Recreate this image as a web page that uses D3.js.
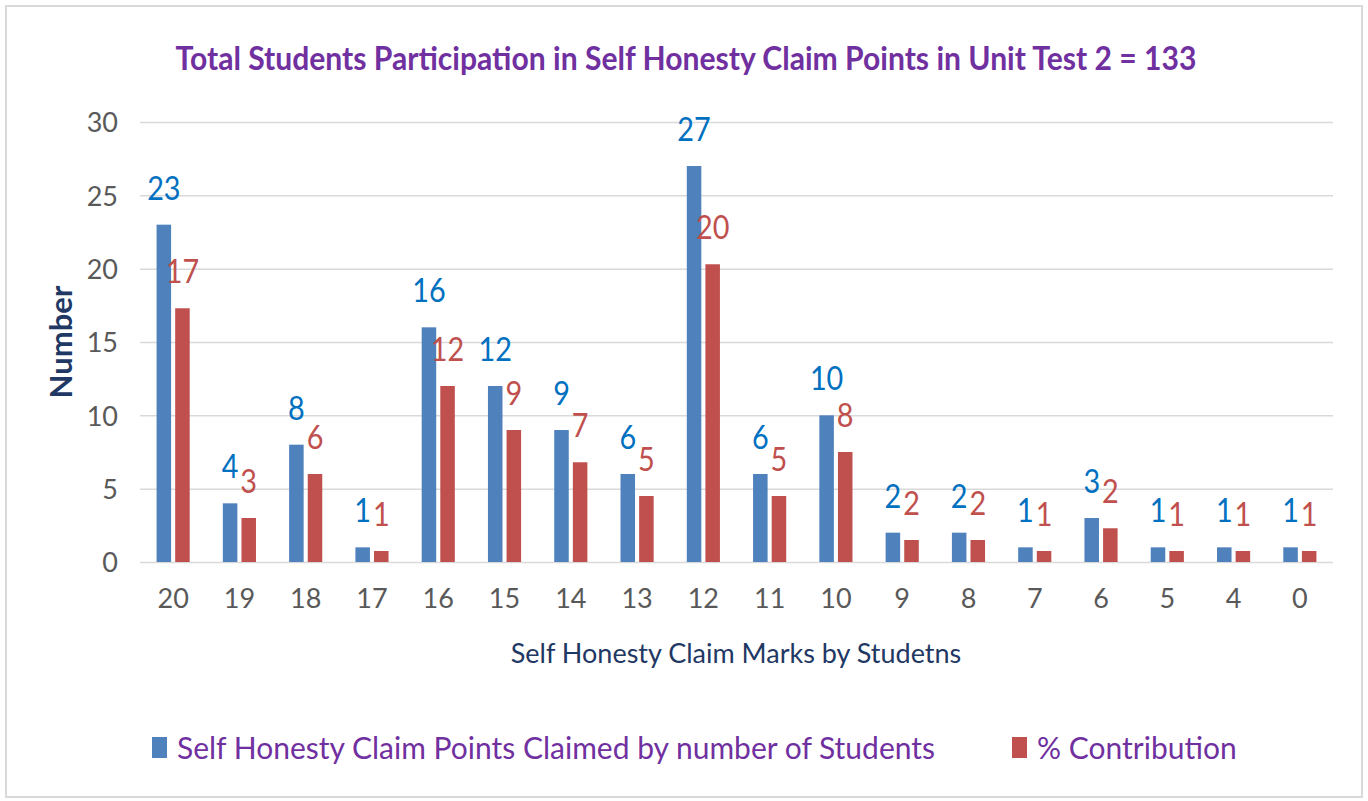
<!DOCTYPE html>
<html>
<head>
<meta charset="utf-8">
<script src="https://cdn.jsdelivr.net/npm/d3@7"></script>
<style>
  html, body { margin: 0; padding: 0; background: #fff; }
  svg { display: block; font-family: Lato, "Open Sans", sans-serif; }
</style>
</head>
<body>
<div id="chart"></div>
<script>
// Marks claimed (x categories), left to right as in the picture
const categories = ['20', '19', '18', '17', '16', '15', '14', '13', '12', '11', '10', '9', '8', '7', '6', '5', '4', '0'];
// Number of students claiming each mark
const studentCounts = [23, 4, 8, 1, 16, 12, 9, 6, 27, 6, 10, 2, 2, 1, 3, 1, 1, 1];
// % contribution (out of 133 students)
const percentContribution = [17.3, 3.0, 6.0, 0.75, 12.0, 9.0, 6.8, 4.5, 20.3, 4.5, 7.5, 1.5, 1.5, 0.75, 2.3, 0.75, 0.75, 0.75];
const yTicks = [0, 5, 10, 15, 20, 25, 30];
const seriesNames = ['Self Honesty Claim Points Claimed by number of Students', '% Contribution'];

const width = 1368, height = 801;
const plot = { left: 140, right: 1333, top: 122, bottom: 562 };
const barColors = ['#4F81BD', '#C0504D'];
const labelColors = ['#0070C0', '#C0504D'];
const purple = '#7030A0';
const fontFamily = 'Lato, "Open Sans", sans-serif';

const svg = d3.select('#chart').append('svg')
  .attr('width', width)
  .attr('height', height);

// squash a text element horizontally to mimic the narrow source font
function condense(sel, factor) {
  sel.each(function () {
    const w = this.getComputedTextLength();
    d3.select(this).attr('textLength', w * factor).attr('lengthAdjust', 'spacingAndGlyphs');
  });
  return sel;
}

// outer frame
svg.append('rect')
  .attr('x', 6).attr('y', 6)
  .attr('width', width - 12).attr('height', height - 10)
  .attr('fill', '#fff')
  .attr('stroke', '#D9D9D9')
  .attr('stroke-width', 2);

const x0 = d3.scaleBand()
  .domain(categories)
  .range([plot.left, plot.right])
  .paddingInner(0.5)
  .paddingOuter(0.25);

const x1 = d3.scaleBand()
  .domain([0, 1])
  .range([0, x0.bandwidth()])
  .paddingInner(0.22);

const y = d3.scaleLinear()
  .domain([0, 30])
  .range([plot.bottom, plot.top]);

// gridlines + y tick labels via axis
const yAxis = svg.append('g')
  .attr('transform', `translate(${plot.left},0)`)
  .call(d3.axisLeft(y).tickValues(yTicks).tickSize(-(plot.right - plot.left)).tickPadding(22))
  .attr('font-family', fontFamily);
yAxis.select('.domain').remove();
yAxis.selectAll('.tick line').attr('stroke', '#D9D9D9').attr('stroke-width', 1.5);
yAxis.selectAll('.tick text')
  .attr('fill', '#595959')
  .style('font-size', '27px')
  .attr('dy', '0.36em');

// x tick labels
const xAxis = svg.append('g')
  .attr('transform', `translate(0,${plot.bottom})`)
  .call(d3.axisBottom(x0).tickSize(0).tickPadding(27))
  .attr('font-family', fontFamily);
xAxis.select('.domain').remove();
xAxis.selectAll('.tick text')
  .attr('fill', '#595959')
  .style('font-size', '27px');

// bars
const rows = categories.map((c, i) => ({ cat: c, values: [studentCounts[i], percentContribution[i]] }));

const groups = svg.append('g').selectAll('g')
  .data(rows)
  .join('g')
  .attr('transform', d => `translate(${x0(d.cat)},0)`);

groups.selectAll('rect')
  .data(d => d.values.map((v, k) => ({ k, v })))
  .join('rect')
  .attr('x', d => x1(d.k))
  .attr('y', d => y(d.v))
  .attr('width', x1.bandwidth())
  .attr('height', d => y(0) - y(d.v))
  .attr('fill', d => barColors[d.k]);

groups.selectAll('text')
  .data(d => d.values.map((v, k) => ({ k, v })))
  .join('text')
  .attr('x', d => x1(d.k) + x1.bandwidth() / 2)
  .attr('y', d => y(d.v) - 25)
  .attr('text-anchor', 'middle')
  .attr('fill', d => labelColors[d.k])
  .style('font-size', '32px')
  .text(d => Math.round(d.v))
  .call(condense, 0.9);

// title
svg.append('text')
  .attr('x', 686).attr('y', 70)
  .attr('text-anchor', 'middle')
  .attr('fill', purple)
  .style('font-size', '32px')
  .style('font-weight', 'bold')
  .text('Total Students Participation in Self Honesty Claim Points in Unit Test 2 = 133')
  .call(condense, 0.94);

// y axis title
svg.append('text')
  .attr('transform', `translate(72,${(plot.top + plot.bottom) / 2}) rotate(-90)`)
  .attr('text-anchor', 'middle')
  .attr('fill', '#1F3864')
  .style('font-size', '31px')
  .style('font-weight', 'bold')
  .text('Number');

// x axis title
svg.append('text')
  .attr('x', 736).attr('y', 663)
  .attr('text-anchor', 'middle')
  .attr('fill', '#1F3864')
  .style('font-size', '27px')
  .text('Self Honesty Claim Marks by Studetns');

// legend
const legend = svg.append('g').attr('transform', 'translate(0,748)');
const legendX = [152, 1012];
seriesNames.forEach((name, k) => {
  const item = legend.append('g').attr('transform', `translate(${legendX[k]},0)`);
  item.append('rect')
    .attr('x', 0).attr('y', -11)
    .attr('width', 15).attr('height', 21)
    .attr('fill', barColors[k]);
  item.append('text')
    .attr('x', 25).attr('y', 0)
    .attr('dy', '0.36em')
    .attr('fill', purple)
    .style('font-size', '30px')
    .text(name);
});
</script>
</body>
</html>
